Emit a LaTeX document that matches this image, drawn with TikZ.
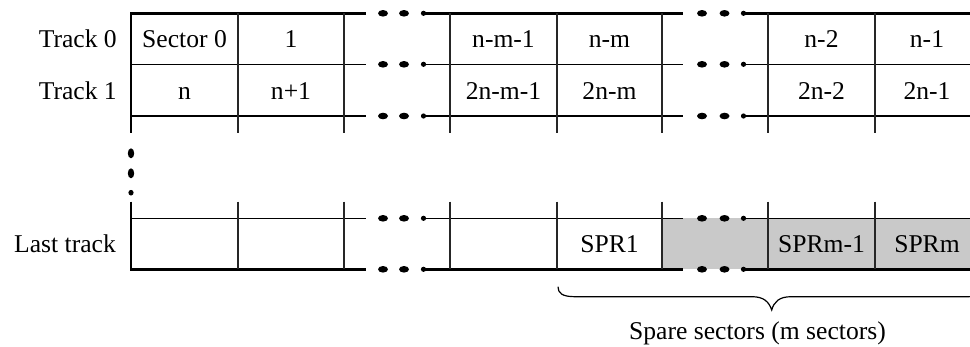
\documentclass[tikz,border=0pt]{standalone}
\usepackage{fontspec}
\setmainfont{Liberation Serif}
\begin{document}
\begin{tikzpicture}[x=1pt,y=-1pt,
  thickln/.style={line width=2.4pt},
  thinln/.style={line width=1.2pt},
  vln/.style={line width=1.1pt, black!85},
  lbl/.style={font=\fontsize{25.6}{30}\selectfont, inner sep=0pt, anchor=base},
  rowlbl/.style={font=\fontsize{25.6}{30}\selectfont, inner sep=0pt, anchor=base east},
  spare/.style={fill=black!21, draw=none}]
\useasboundingbox (0,0) rectangle (970,346);
% gray spare area
\fill[spare] (662,218.3) rectangle (980,269.3);
% horizontal lines with gaps and dots
\foreach \y/\st in {13.3/thickln, 64.3/thinln, 116/thinln, 218.3/thinln, 269.3/thickln}{
  \draw[\st] (131,\y) -- (366,\y);
  \draw[\st] (425,\y) -- (683,\y);
  \draw[\st] (745,\y) -- (980,\y);
  \fill (383,\y) ellipse [x radius=5pt, y radius=3.3pt];
  \fill (404,\y) ellipse [x radius=5pt, y radius=3.3pt];
  \fill (423.5,\y) ellipse [x radius=2.6pt, y radius=2.6pt];
  \fill (702,\y) ellipse [x radius=5pt, y radius=3.3pt];
  \fill (724.5,\y) ellipse [x radius=5pt, y radius=3.3pt];
  \fill (743.5,\y) ellipse [x radius=2.6pt, y radius=2.6pt];
}
% left borders
\draw[thickln] (131,12.1) -- (131,133.3);
\draw[thickln] (131,201.7) -- (131,270.5);
% vertical ellipsis
\fill (131,153.3) ellipse [x radius=3.2pt, y radius=5pt];
\fill (131,173.3) ellipse [x radius=3.2pt, y radius=5pt];
\fill (131,192.7) ellipse [x radius=2.6pt, y radius=2.8pt];
% internal verticals
\foreach \x in {238,344,450,557,662,768,875}{
  \draw[vln] (\x,13.3) -- (\x,133.3);
  \draw[vln] (\x,201.7) -- (\x,269.3);
}
% row labels
\node[rowlbl] (t0) at (117,47.5) {Track 0};
\node[rowlbl] (t1) at (117,99.5) {Track 1};
\node[rowlbl] (tl) at (116,252) {Last track};
% track 0
\node[lbl] (a1) at (184.5,47.5) {Sector 0};
\node[lbl] (a2) at (291,47.5) {1};
\node[lbl] (a4) at (503.5,47.5) {n-m-1};
\node[lbl] (a5) at (609.5,47.5) {n-m};
\node[lbl] (a7) at (821.5,47.5) {n-2};
\node[lbl] (a8) at (927,47.5) {n-1};
% track 1
\node[lbl] (b1) at (184.5,99.5) {n};
\node[lbl] (b2) at (291,99.5) {n+1};
\node[lbl] (b4) at (503.5,99.5) {2n-m-1};
\node[lbl] (b5) at (609.5,99.5) {2n-m};
\node[lbl] (b7) at (821.5,99.5) {2n-2};
\node[lbl] (b8) at (927,99.5) {2n-1};
% last track
\node[lbl] (c5) at (609.5,252) {SPR1};
\node[lbl] (c7) at (821.5,252) {SPRm-1};
\node[lbl] (c8) at (927,252) {SPRm};
% brace
\draw[line width=1.2pt] (558,286.7) .. controls (558,293) and (562,296.7) .. (575,296.7)
  -- (752,296.7) .. controls (764,296.7) and (769,302) .. (771.7,310)
  .. controls (774,302) and (779,296.7) .. (791,296.7)
  -- (968,296.7) .. controls (981,296.7) and (985,293) .. (985,286.7);
\node[lbl] (sp) at (757.5,339.5) {Spare sectors (m sectors)};
\end{tikzpicture}
\end{document}
